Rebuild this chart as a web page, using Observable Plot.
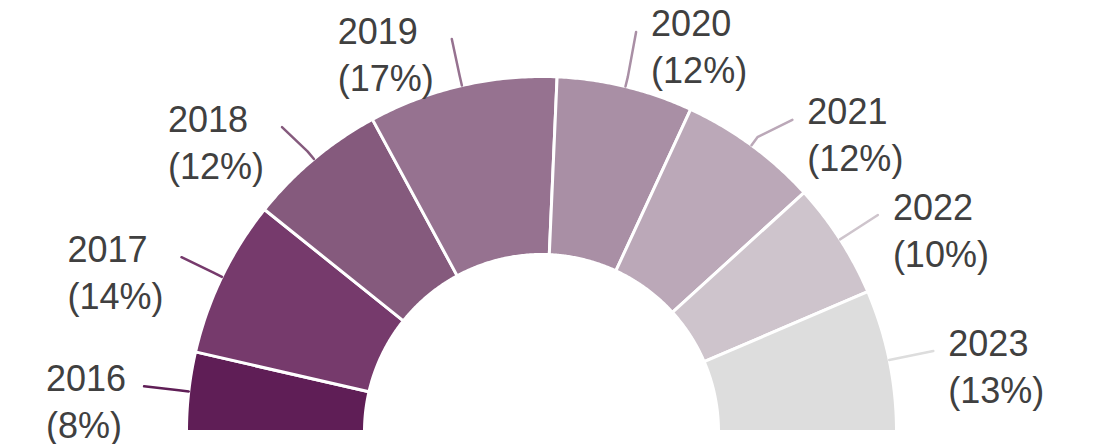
<!DOCTYPE html>
<html>
<head>
<meta charset="utf-8">
<script src="https://cdn.jsdelivr.net/npm/d3@7"></script>
<script src="https://cdn.jsdelivr.net/npm/@observablehq/plot@0.6"></script>
<style>
  html, body { margin: 0; padding: 0; background: #fff; }
  #chart svg { display: block; }
</style>
</head>
<body>
<div id="chart"></div>
<script>
// Data
const years = ["2016", "2017", "2018", "2019", "2020", "2021", "2022", "2023"];
// share of the half circle each segment occupies (estimated from the angles)
const shares = [7.2, 14.3, 12.7, 17.2, 12.4, 12.7, 10.6, 12.9];
// percentages printed in the labels
const pctLabels = [8, 14, 12, 17, 12, 12, 10, 13];
const colors = ["#5f1e56", "#763a6c", "#855a7d", "#967290", "#a98fa5", "#bba8b8", "#cec4cc", "#dddddd"];

const W = 1094, H = 444;
const R = 355, r = 177, labelR = 400;
const FONT = "Liberation Sans, Arial, Helvetica, sans-serif";
const FS = 36;
const MIN_GAP = 88; // minimal vertical distance between neighbouring labels

const total = d3.sum(shares);
const cum = d3.cumsum(shares);
const polys = [];
const labels = [];

const ctx = document.createElement("canvas").getContext("2d");
ctx.font = `${FS}px ${FONT}`;

years.forEach((yr, i) => {
  const c0 = (i === 0 ? 0 : cum[i - 1]) / total;
  const c1 = cum[i] / total;
  const a0 = Math.PI - c0 * Math.PI;
  const a1 = Math.PI - c1 * Math.PI;
  const N = 60;
  for (let k = 0; k <= N; k++) {
    const a = a0 + (a1 - a0) * k / N;
    polys.push({year: yr, x: R * Math.cos(a), y: R * Math.sin(a)});
  }
  for (let k = N; k >= 0; k--) {
    const a = a0 + (a1 - a0) * k / N;
    polys.push({year: yr, x: r * Math.cos(a), y: r * Math.sin(a)});
  }
  const am = (a0 + a1) / 2;
  const pct = `(${pctLabels[i]}%)`;
  labels.push({
    year: yr, pct, am,
    left: Math.cos(am) < 0,
    ex: labelR * Math.cos(am), ey: labelR * Math.sin(am),
    w: Math.max(ctx.measureText(yr).width, ctx.measureText(pct).width)
  });
});

// simple collision avoidance per side (spread neighbours apart vertically)
for (const side of [true, false]) {
  const group = labels.filter(d => d.left === side).sort((a, b) => b.ey - a.ey);
  for (let it = 0; it < 5; it++) {
    for (let k = 0; k < group.length - 1; k++) {
      const g = group[k].ey - group[k + 1].ey;
      if (g < MIN_GAP) {
        const s = (MIN_GAP - g) / 2;
        group[k].ey += s;
        group[k + 1].ey -= s;
      }
    }
  }
  for (const d of group) {
    const onCircle = Math.sqrt(Math.max(0, labelR * labelR - d.ey * d.ey));
    if (d.left) d.ex = Math.min(d.ex, -onCircle);
    else d.ex = Math.max(d.ex, onCircle);
  }
}

const leaders = [];
for (const d of labels) {
  leaders.push({year: d.year, x: R * Math.cos(d.am), y: R * Math.sin(d.am)});
  leaders.push({year: d.year, x: (R + 10) * Math.cos(d.am), y: (R + 10) * Math.sin(d.am)});
  leaders.push({year: d.year, x: d.ex, y: d.ey});
  d.tx = d.left ? d.ex - 18 - d.w : d.ex + 15;
}

const chart = Plot.plot({
  width: W,
  height: H,
  margin: 0,
  x: {domain: [-541, W - 541], range: [0, W], axis: null},
  y: {domain: [-13, H - 13], range: [H, 0], axis: null},
  color: {domain: years, range: colors},
  style: {fontFamily: FONT, background: "#fff"},
  marks: [
    Plot.line(polys, {x: "x", y: "y", z: "year", fill: "year", stroke: "white", strokeWidth: 3, curve: "linear-closed"}),
    Plot.line(leaders, {x: "x", y: "y", z: "year", stroke: "year", strokeWidth: 2.5}),
    Plot.text(labels, {x: "tx", y: "ey", text: "year", textAnchor: "start", dy: -7, fontSize: FS, fill: "#404040"}),
    Plot.text(labels, {x: "tx", y: "ey", text: "pct", textAnchor: "start", dy: 40, fontSize: FS, fill: "#404040"})
  ]
});
document.getElementById("chart").appendChild(chart);
</script>
</body>
</html>
